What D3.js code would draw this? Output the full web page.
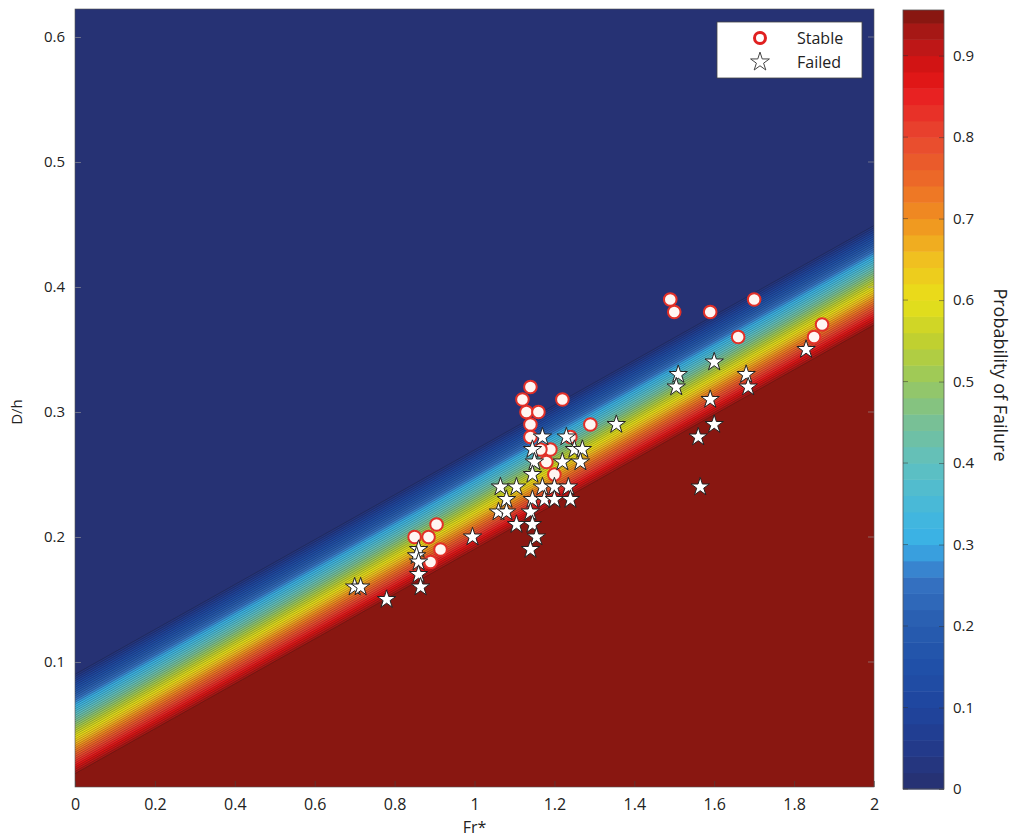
<!DOCTYPE html>
<html>
<head>
<meta charset="utf-8">
<script src="https://cdn.jsdelivr.net/npm/d3@7"></script>
<style>
  body { margin: 0; background: #fff; }
  text { font-family: "Open Sans", sans-serif; fill: #222; }
</style>
</head>
<body>
<svg id="chart"></svg>
<script>
// --- data ---
var stableFr = [1.49, 1.50, 1.59, 1.70, 1.66, 1.87, 1.85,
                1.14, 1.12, 1.22, 1.13, 1.16, 1.14, 1.29, 1.14, 1.24, 1.19, 1.165, 1.18, 1.20,
                0.905, 0.85, 0.885, 0.915, 0.89];
var stableDh = [0.39, 0.38, 0.38, 0.39, 0.36, 0.37, 0.36,
                0.32, 0.31, 0.31, 0.30, 0.30, 0.29, 0.29, 0.28, 0.28, 0.27, 0.27, 0.26, 0.25,
                0.21, 0.20, 0.20, 0.19, 0.18];

var failedFr = [1.83, 1.60, 1.51, 1.505, 1.68, 1.685, 1.59, 1.60, 1.56, 1.565, 1.355,
                0.70, 0.715, 0.78, 0.995,
                0.86, 0.855, 0.86, 0.86, 0.865,
                1.17, 1.23, 1.145, 1.25, 1.27, 1.15, 1.22, 1.265, 1.145,
                1.065, 1.105, 1.17, 1.20, 1.235,
                1.08, 1.145, 1.175, 1.20, 1.24,
                1.06, 1.08, 1.14,
                1.105, 1.145,
                1.155, 1.14];
var failedDh = [0.35, 0.34, 0.33, 0.32, 0.33, 0.32, 0.31, 0.29, 0.28, 0.24, 0.29,
                0.16, 0.16, 0.15, 0.20,
                0.19, 0.185, 0.18, 0.17, 0.16,
                0.28, 0.28, 0.27, 0.27, 0.27, 0.26, 0.26, 0.26, 0.25,
                0.24, 0.24, 0.24, 0.24, 0.24,
                0.23, 0.23, 0.23, 0.23, 0.23,
                0.22, 0.22, 0.22,
                0.21, 0.21,
                0.20, 0.19];

// probability surface: ramp across the band
var bandCentre0 = 0.0487, bandSlope = 0.1795, rampGain = 11.6;
var contourLevels = [0.02,0.04,0.06,0.08,0.10,0.12,0.14,0.16,0.18,0.20,0.22,0.24,0.26,0.28,0.30,
                     0.32,0.34,0.36,0.38,0.40,0.42,0.44,0.46,0.48,0.50,0.52,0.54,0.56,0.58,0.60,
                     0.62,0.64,0.66,0.68,0.70,0.72,0.74,0.76,0.78,0.80,0.82,0.84,0.86,0.88,0.90,
                     0.92,0.94];
var colorMax = 0.956;

var xTicks = [0, 0.2, 0.4, 0.6, 0.8, 1, 1.2, 1.4, 1.6, 1.8, 2];
var yTicks = [0.1, 0.2, 0.3, 0.4, 0.5, 0.6];
var cTicks = [0, 0.1, 0.2, 0.3, 0.4, 0.5, 0.6, 0.7, 0.8, 0.9];

var cmapStops  = [0, 0.05, 0.10, 0.15, 0.20, 0.25, 0.28, 0.30, 0.34, 0.40, 0.45, 0.50, 0.55,
                  0.60, 0.65, 0.70, 0.75, 0.80, 0.85, 0.88, 0.92, 0.956];
var cmapColors = ["#27306f", "#233a8a", "#1f459e", "#2050a8", "#285caf", "#3470c0", "#3a8ed6",
                  "#38b0e6", "#44b8dc", "#60c0bf", "#78c096", "#98c860", "#c0d030",
                  "#e8e018", "#f0c020", "#f09020", "#ec6828", "#e84830", "#e82222", "#dc1212",
                  "#b41818", "#80170f"];

(function(){
var W = 1019, H = 840;
var pl = 75, pr = 874, pt = 9, pb = 787;

var svg = d3.select("#chart").attr("width", W).attr("height", H);

var x = d3.scaleLinear().domain([0, 2]).range([pl, pr]);
var y = d3.scaleLinear().domain([0, 0.6224]).range([pb, pt]);
var cmap = d3.scaleLinear().domain(cmapStops).range(cmapColors).clamp(true);
function bandColor(t){ return cmap(t + 0.01); }

function prob(fr, dh){
    var p = 0.5 + rampGain * (bandCentre0 + bandSlope*fr - dh);
    return Math.max(0, Math.min(colorMax, p));
}

svg.append("clipPath").attr("id", "plotClip")
    .append("rect").attr("x", pl).attr("y", pt)
    .attr("width", pr-pl).attr("height", pb-pt);

// --- filled contours ---
var step = 2;
var nx = Math.ceil((pr-pl)/step)+2, ny = Math.ceil((pb-pt)/step)+2;
var values = new Array(nx*ny);
for(var j=0; j<ny; ++j){
    for(var i=0; i<nx; ++i){
        values[j*nx+i] = prob(x.invert(pl+i*step), y.invert(pt+j*step));
    }
}
var proj = d3.geoTransform({point: function(cx, cy){
    this.stream.point(pl + (cx-0.5)*step, pt + (cy-0.5)*step);
}});
var path = d3.geoPath(proj);
var contours = d3.contours().size([nx, ny]).thresholds(contourLevels)(values);

var field = svg.append("g").attr("clip-path", "url(#plotClip)");
field.append("rect").attr("x", pl).attr("y", pt)
    .attr("width", pr-pl).attr("height", pb-pt)
    .attr("fill", bandColor(0));
field.selectAll("path.band").data(contours).enter().append("path")
    .attr("class", "band")
    .attr("d", path)
    .attr("fill", function(d){ return bandColor(d.value); })
    .attr("stroke", "rgba(15,15,15,0.5)")
    .attr("stroke-width", 0.5);

// --- axes ---
var xAxis = svg.append("g").attr("transform", "translate(0," + pb + ")")
    .call(d3.axisBottom(x).tickValues(xTicks).tickFormat(d3.format("~g"))
          .tickSizeInner(-6).tickSizeOuter(0).tickPadding(12));
xAxis.select(".domain").remove();
xAxis.selectAll(".tick line").attr("stroke", "#444").attr("stroke-opacity", 0.6);
xAxis.selectAll("text").style("font-size", "16px").style("font-family", "'Liberation Sans Narrow','Open Sans',sans-serif").attr("fill", "#222");

var yAxis = svg.append("g").attr("transform", "translate(" + pl + ",0)")
    .call(d3.axisLeft(y).tickValues(yTicks).tickFormat(d3.format(".1f"))
          .tickSizeInner(-6).tickSizeOuter(0).tickPadding(10));
yAxis.select(".domain").remove();
yAxis.selectAll(".tick line").attr("stroke", "#999").attr("stroke-opacity", 0.6);
yAxis.selectAll("text").style("font-size", "15px").attr("fill", "#222");

svg.append("g").selectAll("line").data(yTicks).enter().append("line")
    .attr("x1", pr).attr("x2", pr-6)
    .attr("y1", function(d){ return y(d); }).attr("y2", function(d){ return y(d); })
    .attr("stroke", "#999").attr("stroke-opacity", 0.6);

svg.append("rect").attr("x", pl).attr("y", pt)
    .attr("width", pr-pl).attr("height", pb-pt)
    .attr("fill", "none").attr("stroke", "#555").attr("stroke-width", 0.6);

svg.append("text").attr("x", (pl+pr)/2).attr("y", 833)
    .attr("text-anchor", "middle").style("font-size", "16px")
    .style("font-family", "'Liberation Sans Narrow','Open Sans',sans-serif")
    .text("Fr*");
svg.append("text").attr("transform", "translate(22,412) rotate(-90)")
    .attr("text-anchor", "middle").style("font-size", "15px")
    .style("font-family", "'Liberation Sans Narrow','Open Sans',sans-serif")
    .text("D/h");

// --- points ---
var stable = stableFr.map(function(f, i){ return {fr: f, dh: stableDh[i]}; });
var failed = failedFr.map(function(f, i){ return {fr: f, dh: failedDh[i]}; });

svg.append("g").attr("clip-path", "url(#plotClip)")
    .selectAll("circle").data(stable).enter().append("circle")
    .attr("cx", function(d){ return x(d.fr); })
    .attr("cy", function(d){ return y(d.dh); })
    .attr("r", 6.3)
    .attr("fill", "#fff6f2").attr("stroke", "#e23028").attr("stroke-width", 2);

var star = d3.symbol().type(d3.symbolStar).size(105);
svg.append("g").attr("clip-path", "url(#plotClip)")
    .selectAll("path").data(failed).enter().append("path")
    .attr("d", star)
    .attr("transform", function(d){ return "translate(" + x(d.fr) + "," + y(d.dh) + ")"; })
    .attr("fill", "#fff").attr("stroke", "#222").attr("stroke-width", 1);

// --- legend ---
var legend = svg.append("g");
legend.append("rect").attr("x", 717).attr("y", 22).attr("width", 145).attr("height", 56)
    .attr("fill", "#fff").attr("stroke", "#444").attr("stroke-width", 0.8);
legend.append("circle").attr("cx", 760).attr("cy", 38).attr("r", 5.5)
    .attr("fill", "#fff").attr("stroke", "#e02020").attr("stroke-width", 3);
legend.append("path").attr("d", d3.symbol().type(d3.symbolStar).size(110))
    .attr("transform", "translate(760,62)")
    .attr("fill", "#fff").attr("stroke", "#444").attr("stroke-width", 1);
legend.append("text").attr("x", 797).attr("y", 38).attr("dy", "0.35em")
    .style("font-size", "16px").text("Stable");
legend.append("text").attr("x", 797).attr("y", 62).attr("dy", "0.35em")
    .style("font-size", "16px").text("Failed");

// --- colorbar ---
var cbLeft = 903, cbWidth = 41, cbTop = 10, cbBottom = 789;
var c = d3.scaleLinear().domain([0, colorMax]).range([cbBottom, cbTop]);
var bands = [0].concat(contourLevels);
var cb = svg.append("g");
cb.selectAll("rect").data(bands).enter().append("rect")
    .attr("x", cbLeft).attr("width", cbWidth)
    .attr("y", function(d){ return c(Math.min(d+0.02, colorMax)); })
    .attr("height", function(d){ return c(d) - c(Math.min(d+0.02, colorMax)) + 0.5; })
    .attr("fill", function(d){ return bandColor(d); });
cb.append("rect").attr("x", cbLeft).attr("y", cbTop).attr("width", cbWidth)
    .attr("height", cbBottom-cbTop).attr("fill", "none")
    .attr("stroke", "#555").attr("stroke-width", 0.8);
var cAxis = cb.append("g").attr("transform", "translate(" + (cbLeft+cbWidth) + ",0)")
    .call(d3.axisRight(c).tickValues(cTicks).tickFormat(d3.format("~g"))
          .tickSizeInner(-5).tickSizeOuter(0).tickPadding(9));
cAxis.select(".domain").remove();
cAxis.selectAll(".tick line").attr("stroke", "#333").attr("stroke-opacity", 0.5);
cAxis.selectAll("text").style("font-size", "15px").attr("fill", "#222");
cb.selectAll("line.lt").data(cTicks).enter().append("line").attr("class", "lt")
    .attr("x1", cbLeft).attr("x2", cbLeft+5)
    .attr("y1", function(d){ return c(d); }).attr("y2", function(d){ return c(d); })
    .attr("stroke", "#333").attr("stroke-opacity", 0.5);

svg.append("text").attr("transform", "translate(994,375) rotate(90)")
    .attr("text-anchor", "middle").style("font-size", "18px")
    .text("Probability of Failure");
})();
</script>
</body>
</html>
